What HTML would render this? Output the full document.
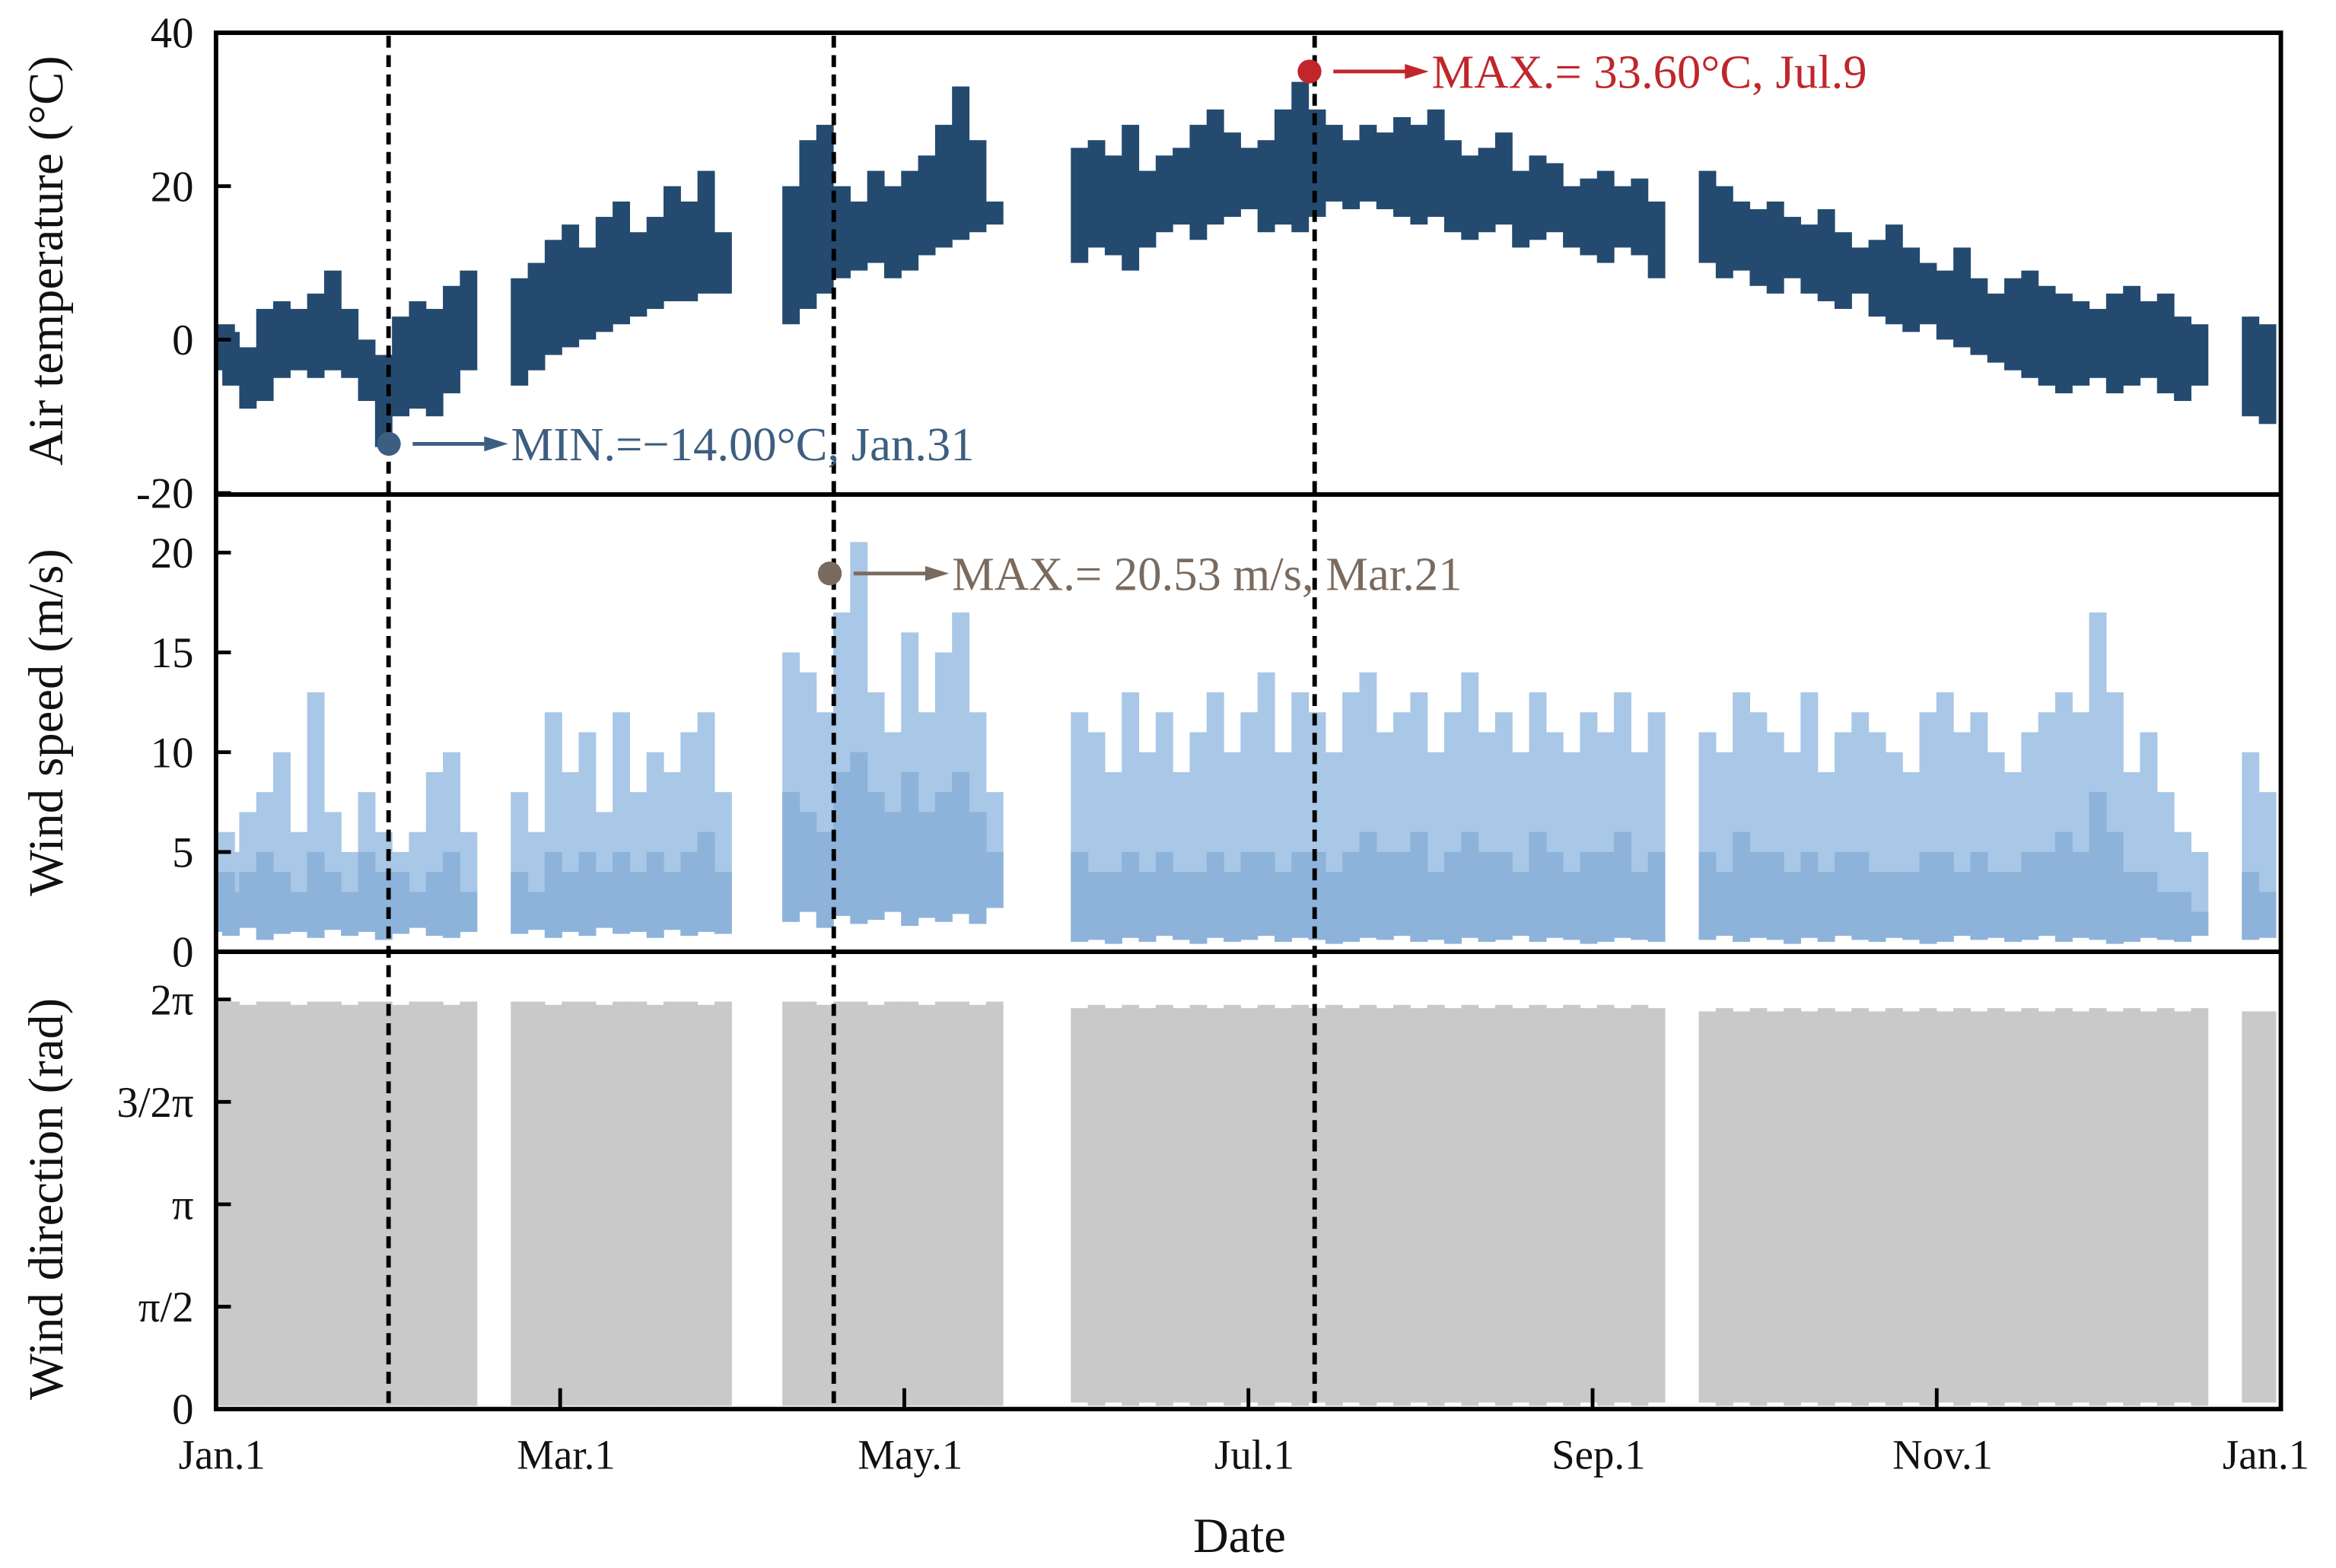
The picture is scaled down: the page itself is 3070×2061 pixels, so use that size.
<!DOCTYPE html>
<html><head><meta charset="utf-8"><style>
html,body{margin:0;padding:0;background:#fff;}
svg{display:block;}
text{font-family:"Liberation Serif",serif;}
</style></head><body>
<svg id="chart" width="3070" height="2061" viewBox="0 0 1568 1052.7" preserveAspectRatio="none" xmlns="http://www.w3.org/2000/svg">
<g id="marks"></g>
<g id="frame"></g>
</svg>
<script>
// data sampled every 3 days (day = 3*i); null = missing
const sampleStep = 3;
const tempLo = [-4,-6,-9,-8,-5,-4,-5,-4,-5,-8,-14,-10,-9,-10,-7,-4, null,null,
 -6,-4,-2,-1,0,1,2,3,4,5,5,6,6, null,null,null,
 2,4,6,8,9,10,8,9,11,12,13,14,15, null,null,null,null,
 10,12,11,9,12,14,15,13,15,16,17,14,15,14,16,18,17,18,17,16,15,16,14,13,14,15,12,13,14,12,11,10,12,11,8, null,null,
 10,8,9,7,6,8,6,5,4,6,3,2,1,2,0,-1,-2,-3,-4,-5,-6,-7,-6,-5,-7,-6,-5,-7,-8,-6, null,null,
 -10,-11];
const tempHi = [2,1,-1,4,5,4,6,9,4,0,-2,3,5,4,7,9, null,null,
 8,10,13,15,12,16,18,14,16,20,18,22,14, null,null,null,
 20,26,28,20,18,22,20,22,24,28,33,26,18, null,null,null,null,
 25,26,24,28,22,24,25,28,30,27,25,26,30,33.6,30,28,26,28,27,29,28,30,26,24,25,27,22,24,23,20,21,22,20,21,18, null,null,
 22,20,18,17,18,16,15,17,14,12,13,15,12,10,9,12,8,6,8,9,7,6,5,4,6,7,5,6,3,2, null,null,
 3,2];
const windLo = [1,0.8,1.2,0.6,0.9,1,0.7,1.1,0.8,1,0.6,0.9,1.2,0.8,0.7,1, null,null,
 0.9,1.1,0.7,1,0.8,1.2,0.9,1,0.7,1.1,0.8,1,0.9, null,null,null,
 1.5,2,1.2,1.8,1.4,1.6,2,1.3,1.7,1.5,1.9,1.4,2.2, null,null,null,null,
 0.5,0.6,0.4,0.7,0.5,0.8,0.6,0.4,0.7,0.5,0.6,0.8,0.5,0.7,0.6,0.4,0.5,0.7,0.6,0.8,0.5,0.6,0.4,0.7,0.5,0.6,0.8,0.5,0.7,0.6,0.4,0.5,0.7,0.6,0.5, null,null,
 0.6,0.8,0.5,0.7,0.6,0.4,0.7,0.5,0.8,0.6,0.5,0.7,0.6,0.4,0.5,0.8,0.6,0.7,0.5,0.6,0.8,0.5,0.7,0.6,0.4,0.5,0.7,0.6,0.5,0.8, null,null,
 0.6,0.7];
const windHi = [6,5,7,8,10,6,13,7,5,8,6,5,6,9,10,6, null,null,
 8,6,12,9,11,7,12,8,10,9,11,12,8, null,null,null,
 15,14,12,17,20.53,13,11,16,12,15,17,12,8, null,null,null,null,
 12,11,9,13,10,12,9,11,13,10,12,14,10,13,12,10,13,14,11,12,13,10,12,14,11,12,10,13,11,10,12,11,13,10,12, null,null,
 11,10,13,12,11,10,13,9,11,12,11,10,9,12,13,11,12,10,9,11,12,13,12,17,13,9,11,8,6,5, null,null,
 10,8];
const windCore = [4,3,4,5,4,3,5,4,3,5,4,4,3,4,5,3, null,null,
 4,3,5,4,5,4,5,4,5,4,5,6,4, null,null,null,
 8,7,6,9,10,8,7,9,7,8,9,7,5, null,null,null,null,
 5,4,4,5,4,5,4,4,5,4,5,5,4,5,5,4,5,6,5,5,6,4,5,6,5,5,4,6,5,4,5,5,6,4,5, null,null,
 5,4,6,5,5,4,5,4,5,5,4,4,4,5,5,4,5,4,4,5,5,6,5,8,6,4,4,3,3,2, null,null,
 4,3];
const dirLo = [0.05,0.05,0.05,0.05,0.05,0.05,0.05,0.05,0.05,0.05,0.05,0.05,0.05,0.05,0.05,0.05, null,null,
 0.05,0.05,0.05,0.05,0.05,0.05,0.05,0.05,0.05,0.05,0.05,0.05,0.05, null,null,null,
 0.05,0.05,0.05,0.05,0.05,0.05,0.05,0.05,0.05,0.05,0.05,0.05,0.05, null,null,null,null,
 0.1,0.05,0.1,0.05,0.1,0.05,0.1,0.05,0.1,0.05,0.1,0.05,0.1,0.05,0.1,0.05,0.1,0.05,0.1,0.05,0.1,0.05,0.1,0.05,0.1,0.05,0.1,0.05,0.1,0.05,0.1,0.05,0.1,0.05,0.1, null,null,
 0.1,0.05,0.1,0.05,0.1,0.05,0.1,0.05,0.1,0.05,0.1,0.05,0.1,0.05,0.1,0.05,0.1,0.05,0.1,0.05,0.1,0.05,0.1,0.05,0.1,0.05,0.1,0.05,0.1,0.05, null,null,
 0.1,0.1];
const dirHi = [6.25,6.25,6.2,6.25,6.25,6.2,6.25,6.25,6.2,6.25,6.25,6.2,6.25,6.25,6.2,6.25, null,null,
 6.25,6.25,6.2,6.25,6.25,6.2,6.25,6.25,6.2,6.25,6.25,6.2,6.25, null,null,null,
 6.25,6.25,6.2,6.25,6.25,6.2,6.25,6.25,6.2,6.25,6.25,6.2,6.25, null,null,null,null,
 6.15,6.2,6.15,6.2,6.15,6.2,6.15,6.2,6.15,6.2,6.15,6.2,6.15,6.2,6.15,6.2,6.15,6.2,6.15,6.2,6.15,6.2,6.15,6.2,6.15,6.2,6.15,6.2,6.15,6.2,6.15,6.2,6.15,6.2,6.15, null,null,
 6.1,6.15,6.1,6.15,6.1,6.15,6.1,6.15,6.1,6.15,6.1,6.15,6.1,6.15,6.1,6.15,6.1,6.15,6.1,6.15,6.1,6.15,6.1,6.15,6.1,6.15,6.1,6.15,6.1,6.15, null,null,
 6.1,6.1];
const xTickLabels = ["Jan.1","Mar.1","May.1","Jul.1","Sep.1","Nov.1","Jan.1"];
const tempTicks = [40,20,0,-20];
const windTicks = [20,15,10,5,0];
const dirTickVals = [0,Math.PI/2,Math.PI,1.5*Math.PI,2*Math.PI];
const dirTickLabels = ["0","\u03c0/2","\u03c0","3/2\u03c0","2\u03c0"];
const markerDays = [30.5, 109.2, 194.2];

const NS="http://www.w3.org/2000/svg";
const L=145,R=1531;
const P1={top:22,bot:332}, P2={top:332,bot:639}, P3={top:639,bot:946};
const xDay = d => L + d/365*(R-L);
const yTemp = v => 228 - v*5.15;
const yWind = v => 639 - v*13.4;
const yDir = v => 946 - v*(275/(2*Math.PI));
const marks=document.getElementById('marks'), frame=document.getElementById('frame');
function mk(tag,attrs,parent){const e=document.createElementNS(NS,tag);for(const k in attrs)e.setAttribute(k,attrs[k]);parent.appendChild(e);return e;}
const bw = sampleStep/365*(R-L);

function drawBars(lo,hi,ys,color,name){
  const g=mk('g',{},marks);
  
  
  for(let i=0;i<lo.length;i++){
    if(lo[i]==null||hi[i]==null) continue;
    const x=Math.max(L+1, xDay(i*sampleStep)-bw/2-1.5), y1=ys(hi[i]), y2=ys(lo[i]);
    const r=mk('rect',{x:x,y:y1,width:bw+0.3,height:Math.max(1,y2-y1),fill:color},g);
    
    
  }
}
drawBars(dirLo,dirHi,yDir,'#c9c9c9','wind-direction-series');
drawBars(windLo,windHi,yWind,'#a9c7e6','wind-speed-range');
drawBars(windLo,windCore,yWind,'#8db3da','wind-speed-core');
drawBars(tempLo,tempHi,yTemp,'#244a6f','air-temperature-series');

markerDays.forEach((d,k)=>{
  const l=mk('line',{x1:xDay(d),x2:xDay(d),y1:24,y2:944,stroke:'#000','stroke-width':3,'stroke-dasharray':'8,5'},frame);
  
  
});

[P1,P2,P3].forEach((p,k)=>{
  const r=mk('rect',{x:L,y:p.top,width:R-L,height:p.bot-p.top,fill:'none',stroke:'#000','stroke-width':3},frame);
  
  
});
function yTick(v,label,ys,name){
  const y=ys(v);
  const t=mk('line',{x1:L,x2:L+10,y1:y,y2:y,stroke:'#000','stroke-width':2.5},frame);
  
  
  const tx=mk('text',{x:130,y:y+10,'text-anchor':'end','font-size':29,fill:'#111'},frame);
  tx.textContent=label;
  
  
}
tempTicks.forEach(v=>yTick(v,String(v),yTemp,'temp'));
windTicks.forEach(v=>yTick(v,String(v),yWind,'wind'));
dirTickVals.forEach((v,i)=>yTick(v,dirTickLabels[i],yDir,'direction'));
xTickLabels.forEach((lab,i)=>{
  const x=L+i*(R-L)/6;
  const t=mk('line',{x1:x,x2:x,y1:946,y2:932,stroke:'#000','stroke-width':2.5},frame);
  
  
  const tx=mk('text',{x:x+(i==6?-10:4),y:986,'text-anchor':'middle','font-size':28,fill:'#111'},frame);
  tx.textContent=lab;
  
  
});
function title(txt,x,y,rot,name,size){
  const t=mk('text',{x:x,y:y,'text-anchor':'middle','font-size':size,fill:'#111',transform:rot?`rotate(-90 ${x} ${y})`:''},frame);
  t.textContent=txt;
  
  
}
title('Air temperature (\u00b0C)',42,175,true,'temp-axis-title',33);
title('Wind speed (m/s)',42,485,true,'wind-axis-title',33);
title('Wind direction (rad)',42,805,true,'direction-axis-title',33);
title('Date',832,1042,false,'x-axis-title',33);

function annot(cx,cy,color,txt,name){
  const c=mk('circle',{cx:cx,cy:cy,r:8,fill:color},frame);
  
  
  const l=mk('line',{x1:cx+16,x2:cx+68,y1:cy,y2:cy,stroke:color,'stroke-width':2.5},frame);
  
  
  const p=mk('polygon',{points:`${cx+64},${cy-5} ${cx+80},${cy} ${cx+64},${cy+5}`,fill:color},frame);
  
  
  const t=mk('text',{x:cx+82,y:cy+11,'font-size':32,fill:color},frame);
  t.textContent=txt;
  
  
}
annot(879,48,'#c0262a','MAX.= 33.60\u00b0C,  Jul.9','temp-max');
annot(261,298,'#3c5e80','MIN.=\u221214.00\u00b0C, Jan.31','temp-min');
annot(557,385,'#7a6a5e','MAX.= 20.53 m/s, Mar.21','wind-max');
</script>
</body></html>
